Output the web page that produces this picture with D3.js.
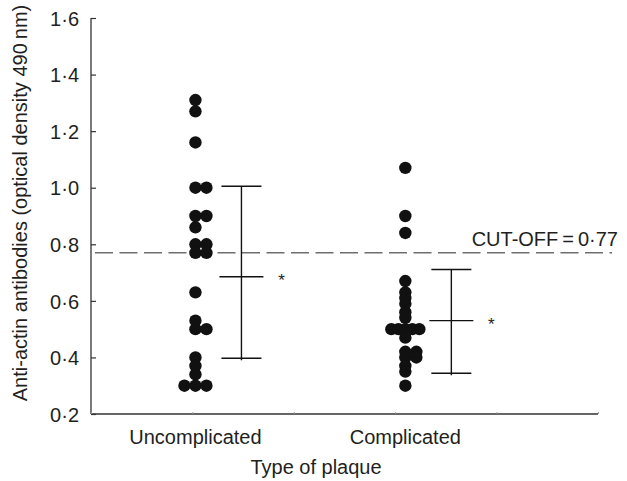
<!DOCTYPE html>
<html>
<head>
<meta charset="utf-8">
<script src="https://cdn.jsdelivr.net/npm/d3@7"></script>
<style>
  body { margin: 0; background: #fff; }
  text { font-family: "Liberation Sans", Arial, sans-serif; fill: #231f20; }
</style>
</head>
<body>
<div id="canvas"></div>
<script>
"use strict"

/* Data */
let categories = ["Uncomplicated", "Complicated"];
let uncomplicated = [1.31, 1.27, 1.16, 1.00, 1.00, 0.90, 0.90, 0.86, 0.80, 0.80, 0.77, 0.77,
    0.63, 0.53, 0.50, 0.50, 0.40, 0.37, 0.34, 0.30, 0.30, 0.30];
let complicated = [1.07, 0.90, 0.84, 0.67, 0.63, 0.61, 0.59, 0.56, 0.54, 0.50, 0.50, 0.50, 0.50, 0.50,
    0.47, 0.42, 0.42, 0.40, 0.40, 0.37, 0.35, 0.30];
let centres = [0.685, 0.53];
let upper = [1.005, 0.711];
let lower = [0.397, 0.344];
let yTicks = [0.2, 0.4, 0.6, 0.8, 1.0, 1.2, 1.4, 1.6];
let cutOff = 0.77;

let series = [uncomplicated, complicated];

let width = 627, height = 481;

let drawing = d3.select("#canvas")
    .append("svg")
    .attr("width", width)
    .attr("height", height);

/* Scales */
let y = d3.scaleLinear().domain([0.2, 1.6]).range([414, 18]);
let xAxisScale = d3.scaleLinear().domain([0, 5]).range([91, 598]);
let x = d3.scalePoint().domain(categories).range([xAxisScale(1.03), xAxisScale(3.1)]);

let fmt = v => d3.format(".1f")(v).replace(".", "\u00b7");

/* Y axis */
let yAxis = drawing.append("g")
    .attr("transform", "translate(91,0)")
    .call(d3.axisRight(y).tickValues(yTicks).tickSize(5).tickFormat(fmt));
yAxis.select(".domain").attr("stroke", "#333").attr("stroke-width", 1.3).attr("d", "M0,18V414");
yAxis.selectAll(".tick line").attr("stroke", "#333").attr("stroke-width", 1.2);
yAxis.selectAll(".tick text")
    .attr("x", -12)
    .attr("text-anchor", "end")
    .attr("dy", "0.36em")
    .style("font-size", "20px")
    .attr("fill", "#231f20");

/* X axis */
let xAxis = drawing.append("g")
    .attr("transform", "translate(0,414)")
    .call(d3.axisTop(xAxisScale).ticks(5).tickSize(2).tickFormat(""));
xAxis.select(".domain").attr("stroke", "#333").attr("stroke-width", 1.3).attr("d", "M91,0H598");
xAxis.selectAll(".tick line").attr("stroke", "#999");

/* Category labels */
drawing.selectAll(".cat")
    .data(categories)
    .enter()
    .append("text")
    .attr("class", "cat")
    .attr("x", d => x(d))
    .attr("y", 444)
    .attr("text-anchor", "middle")
    .style("font-size", "20px")
    .text(d => d);

/* Axis titles */
drawing.append("text")
    .attr("x", 316)
    .attr("y", 474)
    .attr("text-anchor", "middle")
    .style("font-size", "20px")
    .text("Type of plaque");

drawing.append("text")
    .attr("transform", "translate(27,203) rotate(-90)")
    .attr("text-anchor", "middle")
    .style("font-size", "20px")
    .text("Anti-actin antibodies (optical density 490\u2009nm)");

/* Cut-off line */
drawing.append("line")
    .attr("x1", 95)
    .attr("x2", 612)
    .attr("y1", y(cutOff))
    .attr("y2", y(cutOff))
    .attr("stroke", "#6d6e70")
    .attr("stroke-width", 1.6)
    .attr("stroke-dasharray", "18,6.5");

drawing.append("text")
    .attr("x", 618)
    .attr("y", y(cutOff) - 7)
    .attr("text-anchor", "end")
    .style("font-size", "20px")
    .text("CUT-OFF\u2009=\u20090\u00b777");

/* Dots: equal values are spread side by side */
function offsets(values) {
    let counts = d3.rollup(values, v => v.length, v => v);
    let seen = new Map();
    return values.map(v => {
        let n = counts.get(v);
        let k = seen.get(v) || 0;
        seen.set(v, k + 1);
        let step = n >= 4 ? 7 : 11;
        if (n % 2 === 0) return k * step;
        return (k - (n - 1) / 2) * step;
    });
}

series.forEach((vals, i) => {
    let dx = offsets(vals);
    drawing.append("g")
        .selectAll("circle")
        .data(vals)
        .enter()
        .append("circle")
        .attr("cx", (d, j) => x(categories[i]) + dx[j])
        .attr("cy", d => y(d))
        .attr("r", 6.2)
        .attr("fill", "#111");
});

/* Error bars */
let bars = drawing.append("g")
    .selectAll("g")
    .data(categories)
    .enter()
    .append("g")
    .attr("transform", d => "translate(" + (x(d) + 46) + ",0)");

bars.append("line")
    .attr("x1", 0).attr("x2", 0)
    .attr("y1", (d, i) => y(upper[i]))
    .attr("y2", (d, i) => y(lower[i]) + 2)
    .attr("stroke", "#111")
    .attr("stroke-width", 1.4);

bars.append("line")
    .attr("x1", -20).attr("x2", 20)
    .attr("y1", (d, i) => y(upper[i]))
    .attr("y2", (d, i) => y(upper[i]))
    .attr("stroke", "#111")
    .attr("stroke-width", 1.4);

bars.append("line")
    .attr("x1", -20).attr("x2", 20)
    .attr("y1", (d, i) => y(lower[i]))
    .attr("y2", (d, i) => y(lower[i]))
    .attr("stroke", "#111")
    .attr("stroke-width", 1.4);

bars.append("line")
    .attr("x1", -22).attr("x2", 22)
    .attr("y1", (d, i) => y(centres[i]))
    .attr("y2", (d, i) => y(centres[i]))
    .attr("stroke", "#111")
    .attr("stroke-width", 1.4);

bars.append("text")
    .attr("x", 40)
    .attr("y", (d, i) => y(centres[i]) + 9)
    .attr("text-anchor", "middle")
    .style("font-size", "17px")
    .text("*");
</script>
</body>
</html>
